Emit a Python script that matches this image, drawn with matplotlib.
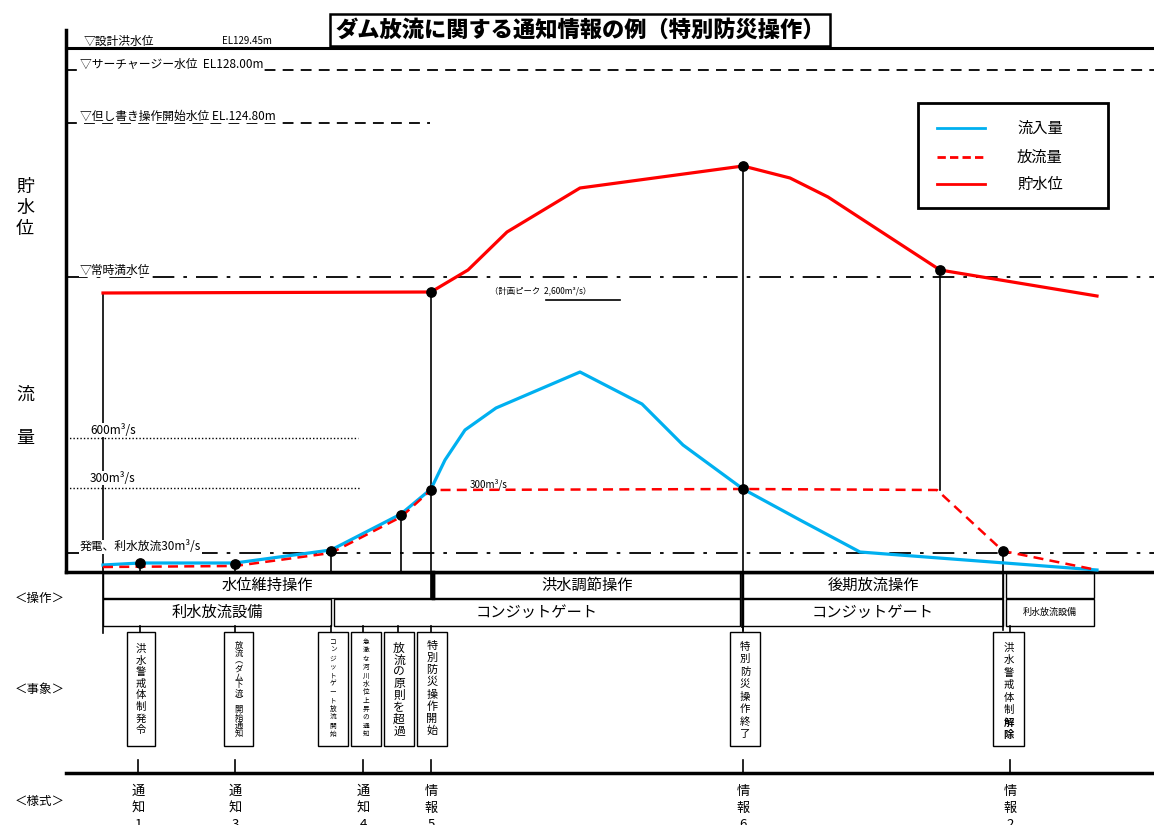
import matplotlib.pyplot as plt
from matplotlib.patches import Rectangle

plt.rcParams["font.family"] = ["Noto Sans CJK JP", "DejaVu Sans"]

# 時間軸・縦軸とも図上の座標(px)で読み取った値
TIME_LEVEL = [103, 431, 468, 507, 580, 743, 790, 828, 940, 1097]
LEVEL = [293, 292, 270, 232, 188, 166, 178, 197, 270, 296]

TIME_INFLOW = [103, 140, 235, 331, 401, 431, 445, 465, 496, 580, 642, 683, 743, 800, 860, 1097]
INFLOW = [565, 563, 563, 550, 514, 489, 460, 430, 408, 372, 404, 445, 489, 520, 552, 570]

TIME_OUTFLOW = [103, 235, 331, 401, 431, 743, 937, 1003, 1097]
OUTFLOW = [567, 566, 553, 517, 490, 489, 490, 551, 570]

DOTS_X = [140, 235, 331, 401, 431, 743, 1003, 431, 743, 940]
DOTS_Y = [563, 564, 551, 515, 490, 489, 551, 292, 166, 270]

# 操作欄
OPS_ROW1 = [(103, 431, "水位維持操作"), (434, 740, "洪水調節操作"),
            (743, 1003, "後期放流操作"), (1006, 1094, "")]
OPS_ROW2 = [(103, 331, "利水放流設備", 11), (334, 740, "コンジットゲート", 11),
            (743, 1003, "コンジットゲート", 11), (1006, 1094, "利水放流設備", 6.5)]

# 事象欄 (左端, 右端, 接続点, 文字, 文字サイズ, 先頭文字y, 末尾文字y)
EVENTS = [
    (127, 155, 140, "洪水警戒体制発令", 7.5, 649, 730),
    (224, 253, 235, "放流︵ダム下流︶開始通知", 6, 645, 733),
    (318, 348, 331, "コンジットゲート放流開始", 4.8, 642, 734),
    (351, 381, 363, "急激な河川水位上昇の通知", 4.8, 642, 734),
    (384, 414, 398, "放流の原則を超過", 8.5, 648, 731),
    (417, 447, 431, "特別防災操作開始", 8, 646, 731),
    (730, 760, 743, "特別防災操作終了", 7.5, 647, 734),
    (993, 1024, 1010, "洪水警戒体制解除", 7.5, 648, 735),
]

# 様式欄
FORMS_X = [138, 235, 363, 431, 743, 1010]
FORMS = ["通知1", "通知3", "通知4", "情報5", "情報6", "情報2"]


def vtext(ax, x, y0, y1, s, fs, bold_from=None):
    n = len(s)
    step = (y1 - y0) / (n - 1)
    for i, ch in enumerate(s):
        w = "bold" if bold_from is not None and i >= bold_from else "normal"
        ax.text(x, y0 + i * step, ch, fontsize=fs, ha="center", va="center",
                fontweight=w)


fig = plt.figure(figsize=(11.54, 8.25), dpi=100)
ax = fig.add_axes([0, 0, 1, 1])
ax.set_xlim(0, 1154)
ax.set_ylim(825, 0)
ax.axis("off")

K = "black"

# 基準線
ax.plot([66, 66], [30, 572], color=K, lw=2.5)
ax.plot([66, 1154], [572, 572], color=K, lw=2.5)
ax.plot([66, 1154], [48, 48], color=K, lw=2.2)
ax.plot([66, 1154], [70, 70], color=K, lw=1.3, ls=(0, (6, 4)))
ax.plot([66, 430], [123, 123], color=K, lw=1.3, ls=(0, (6, 4)))
ax.plot([66, 1154], [277, 277], color=K, lw=1.3, ls=(0, (12, 5, 2, 5)))
ax.plot([66, 1154], [553, 553], color=K, lw=1.3, ls=(0, (12, 5, 2, 5)))
ax.plot([66, 358], [438, 438], color=K, lw=1, ls=(0, (1, 1.5)))
ax.plot([66, 360], [488, 488], color=K, lw=1, ls=(0, (1, 1.5)))

# 縦の補助線
vlines = [(103, 293, 633), (431, 292, 598), (743, 166, 630), (940, 270, 490),
          (401, 515, 572), (331, 551, 572), (140, 563, 572), (235, 564, 572),
          (1003, 551, 630)]
for x, y0, y1 in vlines:
    ax.plot([x, x], [y0, y1], color=K, lw=1.2)
ax.plot([432.5, 432.5], [572, 598], color=K, lw=2.5)
ax.plot([741.5, 741.5], [572, 626], color=K, lw=2)

lbl = dict(fontsize=8.5, color=K, va="center", ha="left",
           bbox=dict(fc="white", ec="none", pad=0.5))
ax.text(84, 41, "▽設計洪水位", fontsize=8.5, va="center")
ax.text(222, 41, "EL129.45m", fontsize=7, va="center")
ax.text(80, 64, "▽サーチャージー水位  EL128.00m", **lbl)
ax.text(80, 116, "▽但し書き操作開始水位 EL.124.80m", **lbl)
ax.text(80, 270, "▽常時満水位", **lbl)
ax.text(90, 430, "600m³/s", **lbl)
ax.text(90, 478, "300m³/s", **lbl)
ax.text(80, 547, "発電、利水放流30m³/s", **lbl)
ax.text(470, 484, "300m³/s", fontsize=7, va="center")
ax.text(490, 291, "（計画ピーク  2,600m³/s）", fontsize=6, va="center")
ax.plot([546, 620], [300, 300], color=K, lw=1.2)

vtext(ax, 25, 187, 229, "貯水位", 13)
ax.text(25, 395, "流", fontsize=13, ha="center", va="center")
ax.text(25, 438, "量", fontsize=13, ha="center", va="center")

# タイトル
ax.text(580, 30, "ダム放流に関する通知情報の例（特別防災操作）", fontsize=16,
        fontweight="heavy", ha="center", va="center",
        bbox=dict(fc="white", ec=K, lw=1.8, pad=3.5))

# 曲線
ax.plot(TIME_LEVEL, LEVEL, color="#ff0000", lw=2.3, zorder=3)
ax.plot(TIME_INFLOW, INFLOW, color="#00b0f0", lw=2.3, zorder=3)
ax.plot(TIME_OUTFLOW, OUTFLOW, color="#ff0000", lw=1.8, ls=(0, (4, 2.5)), zorder=4)
ax.scatter(DOTS_X, DOTS_Y, s=45, color=K, zorder=5)

# 凡例
ax.add_patch(Rectangle((918, 103), 190, 105, fc="white", ec=K, lw=2, zorder=2))
leg = [("#00b0f0", "-", "流入量", 128), ("#ff0000", (0, (3, 1.5)), "放流量", 157),
       ("#ff0000", "-", "貯水位", 184)]
for c, ls, name, y in leg:
    ax.plot([937, 985], [y, y], color=c, ls=ls, lw=2, zorder=3)
    ax.text(1017, y, name, fontsize=11, va="center", zorder=3)

# 操作欄
for x0, x1, name in OPS_ROW1:
    ax.add_patch(Rectangle((x0, 573), x1 - x0, 25, fc="none", ec=K, lw=1))
    ax.text((x0 + x1) / 2, 585, name, fontsize=11, ha="center", va="center")
for x0, x1, name, fs in OPS_ROW2:
    ax.add_patch(Rectangle((x0, 599), x1 - x0, 27, fc="none", ec=K, lw=1))
    ax.text((x0 + x1) / 2, 612, name, fontsize=fs, ha="center", va="center")

ax.text(40, 598, "＜操作＞", fontsize=9, ha="center", va="center")
ax.text(40, 690, "＜事象＞", fontsize=9, ha="center", va="center")
ax.text(40, 802, "＜様式＞", fontsize=9, ha="center", va="center")

# 事象欄
for x0, x1, xc, name, fs, ty0, ty1 in EVENTS:
    ax.plot([xc, xc], [626, 632], color=K, lw=1.2)
    ax.add_patch(Rectangle((x0, 632), x1 - x0, 114, fc="white", ec=K, lw=1))
    bold_from = len(name) - 2 if name.endswith("解除") else None
    vtext(ax, (x0 + x1) / 2, ty0, ty1, name, fs, bold_from)

# 様式欄
ax.plot([66, 1154], [773, 773], color=K, lw=2.5)
for x, name in zip(FORMS_X, FORMS):
    ax.plot([x, x], [760, 773], color=K, lw=1.2)
    vtext(ax, x, 791, 825, name, 9.5)

fig.savefig("out.png", dpi=100)
